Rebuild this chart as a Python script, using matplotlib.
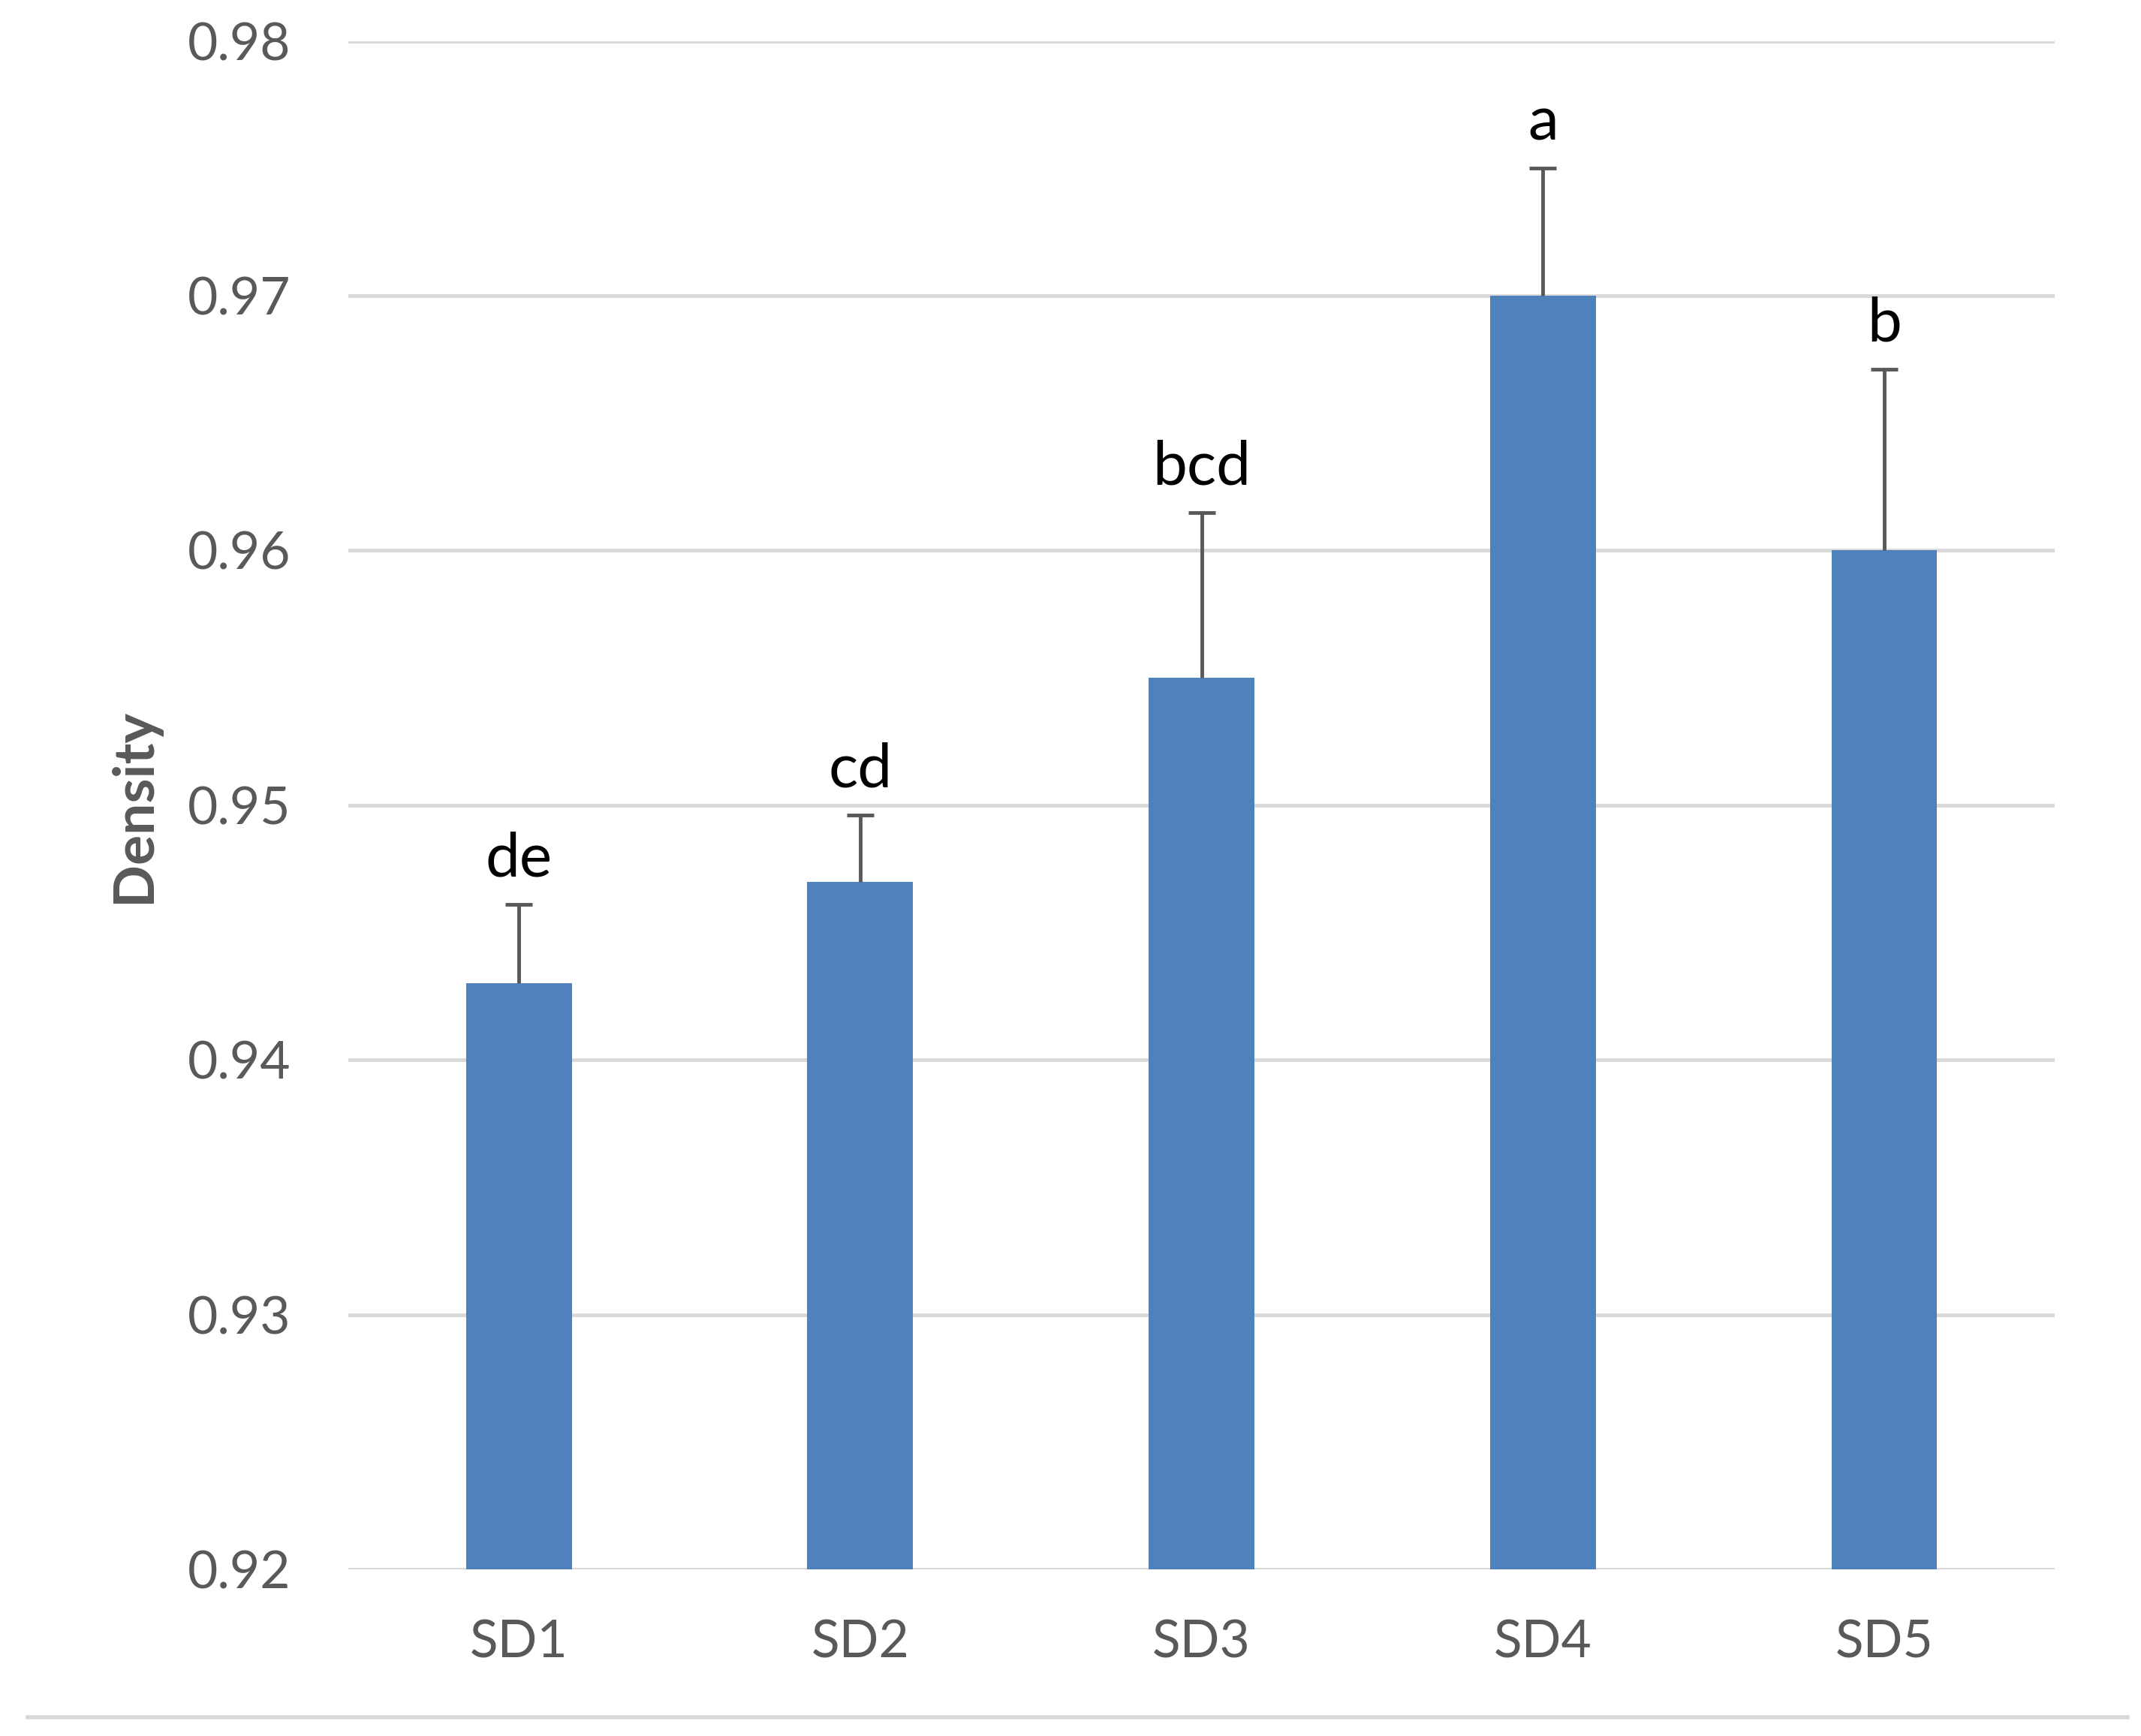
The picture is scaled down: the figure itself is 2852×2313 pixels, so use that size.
import matplotlib
matplotlib.use('Agg')
from matplotlib import pyplot as plt
from matplotlib.lines import Line2D
import numpy as np

matplotlib.rcParams['font.family'] = ['Lato', 'DejaVu Sans']

# data
groups = ['SD1', 'SD2', 'SD3', 'SD4', 'SD5']
density = [0.943, 0.947, 0.955, 0.970, 0.960]
sd = [0.0031, 0.0026, 0.0065, 0.0050, 0.0071]
letters = ['de', 'cd', 'bcd', 'a', 'b']
yticks = [0.92, 0.93, 0.94, 0.95, 0.96, 0.97, 0.98]

bar_color = '#4F81BD'
grid_color = '#D9D9D9'
text_gray = '#595959'

fig = plt.figure(figsize=(28.52, 23.13), dpi=100)
ax = fig.add_axes([0.1626, 0.0959, 0.7972, 0.8805])

x = np.arange(len(groups))
ax.bar(x, density, width=0.31, color=bar_color, zorder=2)
eb = ax.errorbar(x, density, yerr=[np.zeros(len(sd)), sd], fmt='none',
                 ecolor=text_gray, elinewidth=3.5, capsize=13, capthick=3.5, zorder=3)
# only the upper cap is shown
eb[1][0].set_visible(False)

for xi, top, lab in zip(x, np.array(density) + np.array(sd), letters):
    ax.annotate(lab, (xi, top), xytext=(0, 27), textcoords='offset points',
                ha='center', va='baseline', fontsize=59, color='black')

ax.set_xlim(-0.5, len(groups) - 0.5)
ax.set_ylim(0.92, 0.98)
ax.set_yticks(yticks)
ax.set_yticklabels(['%.2f' % t for t in yticks])
ax.set_xticks(x)
ax.set_xticklabels(groups)
ax.tick_params(axis='both', length=0, labelsize=50, labelcolor=text_gray)
ax.tick_params(axis='y', pad=55)
ax.tick_params(axis='x', pad=48)
ax.yaxis.grid(True, color=grid_color, linewidth=3.5, zorder=0)
ax.set_axisbelow(True)
for s in ax.spines.values():
    s.set_visible(False)

fig.text(0.0625, 0.536, 'Density', rotation=90, ha='center', va='center',
         fontsize=54, fontweight='bold', color=text_gray)

# chart frame bottom line
fig.add_artist(Line2D([0.0128, 0.9936], [0.011, 0.011], transform=fig.transFigure,
                      color=grid_color, linewidth=4))

plt.savefig('out.png', dpi=100)
